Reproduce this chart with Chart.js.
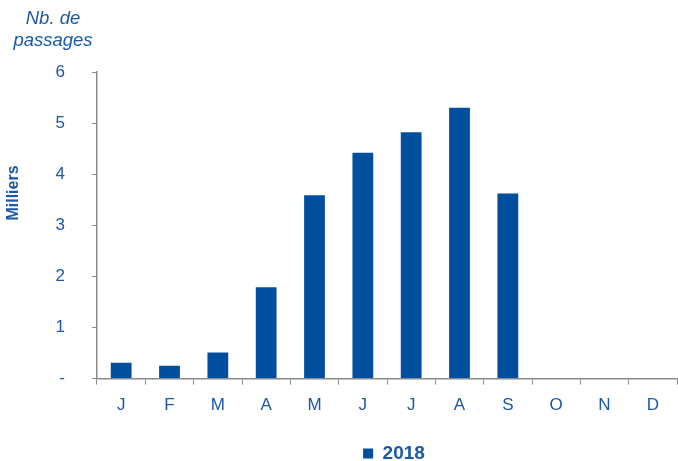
<!DOCTYPE html>
<html>
<head>
<meta charset="utf-8">
<script src="https://cdn.jsdelivr.net/npm/chart.js@4"></script>
<style>
  html, body { margin: 0; padding: 0; background: #fff; }
  #wrap { width: 678px; height: 461px; }
</style>
</head>
<body>
<div id="wrap"><canvas id="passagesChart" width="678" height="461"></canvas></div>
<script>
// --- data (milliers de passages) ---
const months = ['J', 'F', 'M', 'A', 'M', 'J', 'J', 'A', 'S', 'O', 'N', 'D'];
const passages2018 = [0.31, 0.25, 0.51, 1.79, 3.59, 4.42, 4.82, 5.3, 3.62, null, null, null];
const yTicks = [0, 1, 2, 3, 4, 5, 6];

const barBlue = '#004f9f';
const textBlue = '#1c58a5';
const axisGrey = '#8a8a8a';
const fontFamily = '"Liberation Sans", Arial, sans-serif';

// corner title ("Nb. de passages") and the rotated unit label, drawn by hand
const sideTexts = {
    id: 'sideTexts',
    afterLayout(chart) {
        // legend sits a little lower and right of where the layout puts it
        const lg = chart.legend;
        if (lg) {
            lg.left += 7; lg.right += 7;
            lg.top += 12; lg.bottom += 12;
        }
    },
    afterDraw(chart) {
        const ctx = chart.ctx;
        ctx.save();
        ctx.fillStyle = textBlue;
        ctx.font = 'italic 18.5px ' + fontFamily;
        ctx.textAlign = 'center';
        ctx.textBaseline = 'alphabetic';
        ctx.fillText('Nb. de', 53, 24);
        ctx.fillText('passages', 53, 46);

        ctx.translate(14, 193);
        ctx.rotate(-Math.PI / 2);
        ctx.font = 'bold 16px ' + fontFamily;
        ctx.textBaseline = 'middle';
        ctx.fillText('Milliers', 0, 0);
        ctx.restore();
    }
};

new Chart(document.getElementById('passagesChart'), {
    type: 'bar',
    data: {
        labels: months,
        datasets: [{
            label: '2018',
            data: passages2018,
            backgroundColor: barBlue,
            borderWidth: 0,
            barPercentage: 0.43,
            categoryPercentage: 1
        }]
    },
    options: {
        responsive: false,
        animation: false,
        layout: { padding: { top: 72, right: 1, left: 0, bottom: 0 } },
        scales: {
            x: {
                afterFit: axis => { axis.height += 4; },
                grid: {
                    offset: true,
                    drawOnChartArea: false,
                    drawTicks: true,
                    tickLength: 6,
                    color: axisGrey
                },
                border: { color: axisGrey, width: 1.5 },
                ticks: {
                    color: textBlue,
                    padding: 11,
                    font: { family: fontFamily, size: 17 }
                }
            },
            y: {
                min: 0,
                max: 6,
                afterBuildTicks: axis => { axis.ticks = yTicks.map(v => ({ value: v })); },
                afterFit: axis => { axis.width = 97; },
                grid: {
                    drawOnChartArea: false,
                    drawTicks: true,
                    tickLength: 5,
                    color: axisGrey
                },
                border: { color: axisGrey, width: 1.5 },
                ticks: {
                    color: textBlue,
                    padding: 27,
                    font: { family: fontFamily, size: 17 },
                    callback: v => v === 0 ? '-' : v
                }
            }
        },
        plugins: {
            legend: {
                position: 'bottom',
                fullSize: false,
                labels: {
                    color: textBlue,
                    boxWidth: 10,
                    boxHeight: 10,
                    padding: 1,
                    font: { family: fontFamily, size: 19, weight: 'bold' }
                }
            },
            tooltip: { enabled: false }
        }
    },
    plugins: [sideTexts]
});
</script>
</body>
</html>
